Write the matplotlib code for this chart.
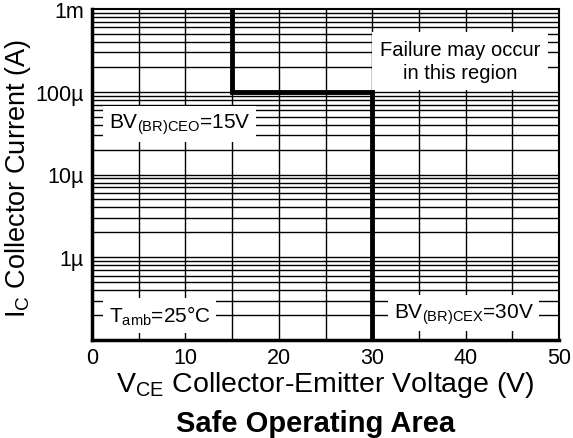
import matplotlib
matplotlib.use("Agg")
import matplotlib.pyplot as plt
from matplotlib.ticker import FixedLocator, NullFormatter

plt.rcParams['font.family'] = ['Liberation Sans', 'DejaVu Sans']
plt.rcParams['mathtext.fontset'] = 'custom'
plt.rcParams['mathtext.rm'] = 'Liberation Sans'

# SOA boundary
soa_v = [15, 15, 30, 30]
soa_i = [1e-3, 1e-4, 1e-4, 1e-7]

x_ticks = [0, 10, 20, 30, 40, 50]
x_grid = [5, 10, 15, 20, 25, 30, 35, 40, 45]
y_ticks = [1e-6, 1e-5, 1e-4, 1e-3]
y_labels = ['1µ', '10µ', '100µ', '1m']

fig = plt.figure(figsize=(5.73, 4.39), dpi=100)
ax = fig.add_axes([92/573, 1-341/439, (559-92)/573, (341-10)/439])
ax.set_xlim(0, 50)
ax.set_ylim(1e-7, 1e-3)
ax.set_yscale('log')

# grid
for xv in x_grid:
    ax.axvline(xv, color='black', lw=1.0, zorder=1)
minors = [m * 10.0**e for e in range(-7, -3) for m in range(2, 10)]
for yv in minors + y_ticks[:-1]:
    ax.axhline(yv, color='black', lw=1.0, zorder=1)

ax.plot(soa_v, soa_i, color='black', lw=3.5, zorder=3, solid_joinstyle='miter')

ax.set_xticks(x_ticks)
ax.set_yticks(y_ticks)
ax.set_yticklabels(y_labels)
ax.yaxis.set_minor_locator(FixedLocator(minors))
ax.yaxis.set_minor_formatter(NullFormatter())
ax.tick_params(axis='both', which='both', length=0, labelsize=15.5, colors='black')
ax.tick_params(axis='x', pad=5)
ax.tick_params(axis='y', pad=6)

for s in ['left', 'bottom']:
    ax.spines[s].set_linewidth(2.5)
for s in ['top', 'right']:
    ax.spines[s].set_linewidth(1.5)

box = dict(facecolor='white', edgecolor='none', pad=4)
ax.text(39.4, 2.35e-4, 'Failure may occur\nin this region', ha='center', va='center',
        fontsize=14.5, linespacing=1.25, bbox=dict(facecolor='white', edgecolor='none', pad=6), zorder=4)
ax.text(1.8, 4.1e-5, r'BV$_{\mathregular{(BR)CEO}}$=15V', ha='left', va='center',
        fontsize=15, bbox=box, zorder=4)
ax.text(1.8, 2.0e-7, r'T$_{\mathregular{amb}}$=25°C', ha='left', va='center',
        fontsize=15, bbox=box, zorder=4)
ax.text(32.3, 2.1e-7, r'BV$_{\mathregular{(BR)CEX}}$=30V', ha='left', va='center',
        fontsize=15, bbox=box, zorder=4)

ax.set_xlabel(r'V$_{\mathregular{CE}}$ Collector-Emitter Voltage (V)', fontsize=20.5, labelpad=1)
ax.set_ylabel(r'I$_{\mathregular{C}}$ Collector Current (A)', fontsize=19.5)
ax.yaxis.set_label_coords(-(92 - 33) / 467, 0.49)
fig.text(316/573, 1-424/439, 'Safe Operating Area', ha='center', va='center',
         fontsize=21, fontweight='bold')

fig.savefig('out.png', dpi=100, facecolor='white')
